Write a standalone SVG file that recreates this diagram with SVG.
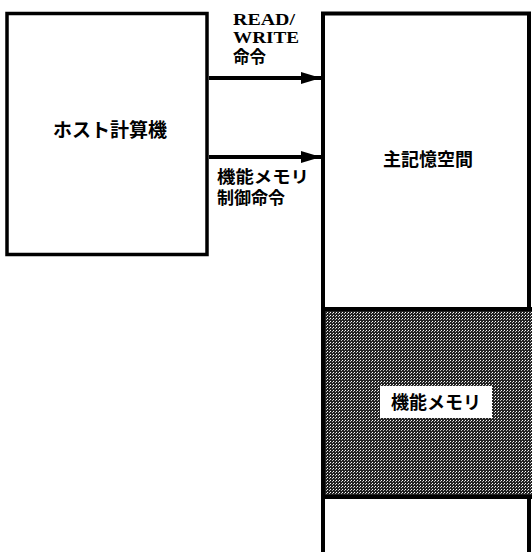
<svg xmlns="http://www.w3.org/2000/svg" width="532" height="552" viewBox="0 0 532 552">
<style>
.box{fill:#fff;stroke:#000;stroke-width:3.5}
.jp{font-family:"Noto Sans CJK JP","Noto Sans",sans-serif;font-weight:bold;fill:#000}
.en{font-family:"Liberation Serif",serif;font-weight:bold;fill:#000}
.ln{stroke:#000;stroke-width:4;fill:none}
</style>
<defs>
<pattern id="dots" width="3" height="3" patternUnits="userSpaceOnUse">
<rect width="3" height="3" fill="#222"/>
<rect x="0" y="0" width="1" height="1" fill="#fff"/>
<rect x="2" y="1" width="1" height="1" fill="#bbb"/>
</pattern>
<marker id="ah" markerWidth="20" markerHeight="14" refX="20" refY="7" orient="auto" markerUnits="userSpaceOnUse">
<path d="M0,1 L20,7 L0,13 Z" fill="#000"/>
</marker>
</defs>
<g id="host">
<rect class="box" x="7" y="13.5" width="200" height="241"/>
<text class="jp" x="110" y="137" font-size="19" text-anchor="middle">ホスト計算機</text>
</g>
<g id="mainmem">
<path class="ln" d="M323,552 L323,13.5 L529,13.5 L529,552"/>
<text class="jp" x="428" y="166" font-size="18" text-anchor="middle">主記憶空間</text>
</g>
<g id="funcmem">
<rect x="325" y="309" width="207" height="188" fill="url(#dots)"/>
<line class="ln" x1="323" y1="309" x2="532" y2="309"/>
<line class="ln" x1="323" y1="497" x2="532" y2="497"/>
<rect x="380" y="386" width="112" height="32" fill="#fff"/>
<text class="jp" x="436" y="409" font-size="18" text-anchor="middle">機能メモリ</text>
</g>
<g id="connectors">
<line class="ln" x1="209" y1="78" x2="321" y2="78" marker-end="url(#ah)"/>
<line class="ln" x1="209" y1="157" x2="321" y2="157" marker-end="url(#ah)"/>
</g>
<g id="labels">
<text class="en" font-size="17.5"><tspan x="233" y="25" textLength="62" lengthAdjust="spacingAndGlyphs">READ/</tspan><tspan x="233" y="43" textLength="66" lengthAdjust="spacingAndGlyphs">WRITE</tspan><tspan class="jp" x="233" y="63" font-size="16.5">命令</tspan></text>
<text class="jp" font-size="16.5"><tspan x="217" y="183" textLength="92" lengthAdjust="spacingAndGlyphs">機能メモリ</tspan><tspan x="217" y="204" textLength="68" lengthAdjust="spacingAndGlyphs">制御命令</tspan></text>
</g>
</svg>
